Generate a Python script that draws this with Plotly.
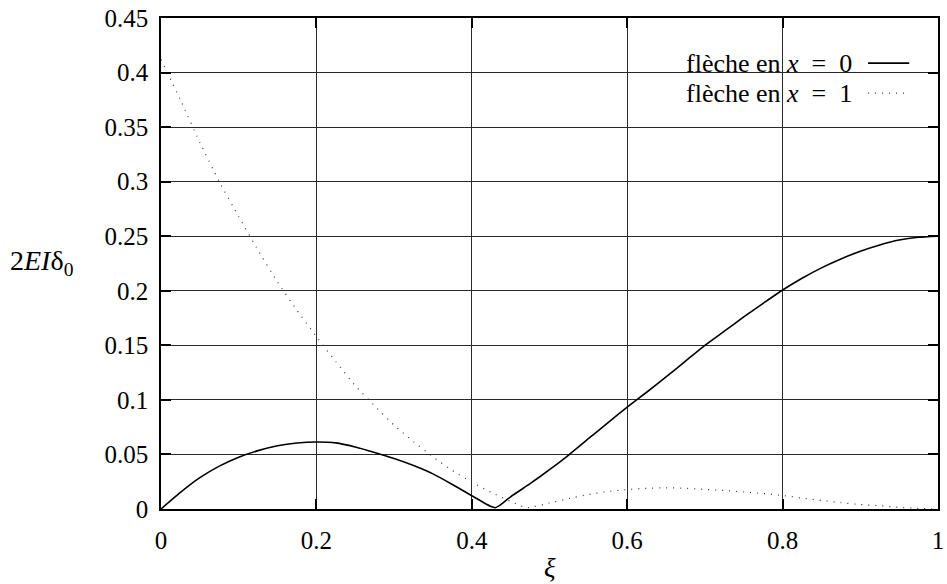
import plotly.graph_objects as go

# xi values and curve readings
xi_solid = [0, 0.025, 0.05, 0.075, 0.1, 0.125, 0.15, 0.175, 0.2, 0.225, 0.25, 0.275, 0.3,
            0.325, 0.35, 0.375, 0.4, 0.415, 0.425, 0.43, 0.435, 0.45, 0.475, 0.5, 0.525, 0.55,
            0.575, 0.6, 0.625, 0.65, 0.675, 0.7, 0.725, 0.75, 0.775, 0.8, 0.825, 0.85,
            0.875, 0.9, 0.925, 0.95, 0.975, 1.0]
delta_x0 = [0.0, 0.0152, 0.0287, 0.0393, 0.0475, 0.0535, 0.0580, 0.0605, 0.0614, 0.0606,
            0.0568, 0.0518, 0.0462, 0.0398, 0.0322, 0.0225, 0.0122, 0.0060, 0.0022, 0.0012,
            0.0028, 0.0112, 0.0232, 0.0360, 0.0497, 0.0644, 0.0790, 0.0933, 0.1070, 0.1210,
            0.1355, 0.1500, 0.1630, 0.1760, 0.1885, 0.2007, 0.2115, 0.2210, 0.2292,
            0.2362, 0.2420, 0.2465, 0.2490, 0.2500]

xi_dot = [0, 0.025, 0.05, 0.075, 0.1, 0.125, 0.15, 0.175, 0.2, 0.225, 0.25, 0.275, 0.3,
          0.325, 0.35, 0.375, 0.4, 0.425, 0.45, 0.47, 0.5, 0.525, 0.55, 0.575, 0.6, 0.625,
          0.65, 0.675, 0.7, 0.725, 0.75, 0.775, 0.8, 0.825, 0.85, 0.875, 0.9, 0.925, 0.95,
          0.975, 1.0]
delta_x1 = [0.412, 0.375, 0.336, 0.300, 0.268, 0.237, 0.208, 0.182, 0.158, 0.135, 0.113,
            0.0945, 0.0768, 0.0617, 0.0478, 0.0352, 0.0245, 0.0152, 0.0070, 0.0012, 0.0055,
            0.0096, 0.0133, 0.0160, 0.0178, 0.0190, 0.0194, 0.0190, 0.0180, 0.0169, 0.0156,
            0.0142, 0.0124, 0.0100, 0.0079, 0.0058, 0.0041, 0.0030, 0.0015, 0.0006, 0.0]

x_ticks = [0, 0.2, 0.4, 0.6, 0.8, 1]
x_tick_text = ["0", "0.2", "0.4", "0.6", "0.8", "1"]
y_ticks = [0, 0.05, 0.1, 0.15, 0.2, 0.25, 0.3, 0.35, 0.4, 0.45]
y_tick_text = ["0", "0.05", "0.1", "0.15", "0.2", "0.25", "0.3", "0.35", "0.4", "0.45"]

legend_labels = ["flèche en <i>x</i>&nbsp; =&nbsp; 0", "flèche en <i>x</i>&nbsp; =&nbsp; 1"]

FONT = "Liberation Serif"

fig = go.Figure()
fig.add_trace(go.Scatter(x=xi_solid, y=delta_x0, mode="lines",
                         line=dict(color="black", width=1.6, shape="spline", smoothing=0.5),
                         showlegend=False))
fig.add_trace(go.Scatter(x=xi_dot, y=delta_x1, mode="lines",
                         line=dict(color="#333333", width=1.2, dash="1px,6px",
                                   shape="spline", smoothing=0.5),
                         showlegend=False))

axis_common = dict(showline=True, linecolor="black", linewidth=1.5, mirror="ticks",
                   ticks="inside", ticklen=10, tickcolor="black", tickwidth=1.5,
                   showgrid=True, gridcolor="#2a2a2a", gridwidth=1, zeroline=False,
                   ticklabeloverflow="allow",
                   tickfont=dict(family=FONT, size=25, color="black"))

fig.update_xaxes(range=[0, 1], tickvals=x_ticks, ticktext=x_tick_text,
                 ticklabelstandoff=8, **axis_common)
fig.update_yaxes(range=[0, 0.45], tickvals=y_ticks, ticktext=y_tick_text,
                 ticklabelstandoff=6, **axis_common)

# legend (text left, sample right, like gnuplot)
leg_y = [0.908, 0.847]
for lab, yy in zip(legend_labels, leg_y):
    fig.add_annotation(xref="paper", yref="paper", x=0.892, y=yy, text=lab,
                       showarrow=False, xanchor="right", yanchor="middle",
                       font=dict(family=FONT, size=26, color="black"))
fig.add_shape(type="line", xref="paper", yref="paper", x0=0.910, x1=0.963,
              y0=leg_y[0], y1=leg_y[0], line=dict(color="black", width=1.6))
fig.add_shape(type="line", xref="paper", yref="paper", x0=0.910, x1=0.963,
              y0=leg_y[1], y1=leg_y[1], line=dict(color="#333333", width=1.2, dash="1px,6px"))

# axis titles
fig.add_annotation(xref="paper", yref="paper", x=-0.197, y=0.503,
                   text="2<i>EI</i>δ<sub>0</sub>", showarrow=False,
                   xanchor="left", yanchor="middle",
                   font=dict(family=FONT, size=28, color="black"))
fig.add_annotation(xref="paper", yref="paper", x=0.5, y=-0.12,
                   text="<i>ξ</i>", showarrow=False, xanchor="center", yanchor="middle",
                   font=dict(family=FONT, size=27, color="black"))

fig.update_layout(width=947, height=584, plot_bgcolor="white", paper_bgcolor="white",
                  margin=dict(l=161, r=9, t=18, b=75, autoexpand=False),
                  font=dict(family=FONT, size=25, color="black"))

fig.write_html("out.html", config={"displayModeBar": False},
               post_script="document.body.style.margin='0';")
